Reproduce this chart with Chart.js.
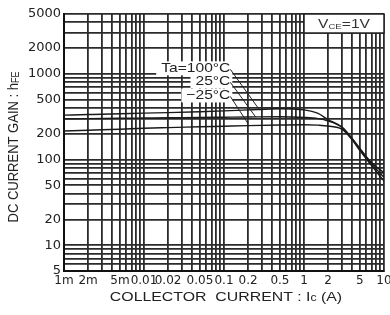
<!DOCTYPE html>
<html>
<head>
<meta charset="utf-8">
<script src="https://cdn.jsdelivr.net/npm/chart.js@4.4.0/dist/chart.umd.min.js"></script>
<style>
  html, body { margin: 0; padding: 0; background: #fff; }
  #wrap { width: 390px; height: 315px; }
</style>
</head>
<body>
<div id="wrap"><canvas id="hfeChart"></canvas></div>
<script>
// collector current Ic (A)
const current = [0.001, 0.002, 0.005, 0.01, 0.02, 0.05, 0.1, 0.2, 0.5, 1, 1.5, 2, 3, 4, 5, 7, 10];
// DC current gain hFE for each ambient temperature
const hfe100 = [330, 335, 342, 348, 353, 362, 370, 380, 392, 380, 345, 292, 238, 176, 135, 92, 70];
const hfe25 = [298, 300, 303, 305, 307, 310, 312, 314, 316, 310, 300, 282, 236, 174, 131, 89, 62];
const hfeMinus25 = [215, 220, 226, 232, 236, 241, 245, 249, 253, 255, 252, 246, 225, 170, 127, 85, 56];
const seriesNames = ['Ta=100°C', '25°C', '−25°C'];

// axis tick labels
const xTickValues = [0.001, 0.002, 0.005, 0.01, 0.02, 0.05, 0.1, 0.2, 0.5, 1, 2, 5, 10];
const xTickLabels = ['1m', '2m', '5m', '0.01', '0.02', '0.05', '0.1', '0.2', '0.5', '1', '2', '5', '10'];
const yTickValues = [5, 10, 20, 50, 100, 200, 500, 1000, 2000, 5000];
const yTickLabels = ['5', '10', '20', '50', '100', '200', '500', '1000', '2000', '5000'];

// annotation anchors in data units (A, hFE)
const labelRightX = 0.12;
const labelY = [1160, 820, 560];
const leaderEnd = [[0.28, 376], [0.25, 312], [0.2, 262]];
const vceBox = [1, 3000, 10, 5000];

const FONT = '"Liberation Sans", Arial, sans-serif';

// every 1..9 multiple inside the range -> full log grid
function logGridTicks(min, max) {
    const out = [];
    for (let e = Math.floor(Math.log10(min)); e <= Math.ceil(Math.log10(max)); e++) {
        for (let m = 1; m < 10; m++) {
            const v = +(m * Math.pow(10, e)).toPrecision(6);
            if (v >= min * 0.999 && v <= max * 1.001) out.push(v);
        }
    }
    return out;
}

function pickLabel(value, values, labels) {
    const i = values.findIndex(v => Math.abs(v - value) <= v * 1e-6);
    return i < 0 ? '' : labels[i];
}

function toPoints(ys) {
    return current.map((c, i) => ({ x: c, y: ys[i] }));
}

// text runs with sub-scripts, stretched horizontally like the scan
function drawRuns(ctx, runs, x, y, align, stretch) {
    let w = 0;
    runs.forEach(r => {
        ctx.font = r.size + 'px ' + FONT;
        r.w = ctx.measureText(r.t).width;
        w += r.w;
    });
    const total = w * stretch;
    const start = align === 'right' ? x - total : align === 'center' ? x - total / 2 : x;
    ctx.save();
    ctx.translate(start, y);
    ctx.scale(stretch, 1);
    let cx = 0;
    runs.forEach(r => {
        ctx.font = r.size + 'px ' + FONT;
        ctx.fillText(r.t, cx, r.dy || 0);
        cx += r.w;
    });
    ctx.restore();
    return total;
}

const annotatePlugin = {
    id: 'annotate',
    afterDatasetsDraw(chart) {
        const { ctx, scales: { x, y } } = chart;
        ctx.save();
        ctx.fillStyle = '#222';
        ctx.textBaseline = 'middle';

        // VCE box
        const bx0 = x.getPixelForValue(vceBox[0]), by0 = y.getPixelForValue(vceBox[1]);
        const bx1 = x.getPixelForValue(vceBox[2]), by1 = y.getPixelForValue(vceBox[3]);
        ctx.fillStyle = '#fff';
        ctx.fillRect(bx0, by1, bx1 - bx0, by0 - by1);
        ctx.strokeStyle = '#222';
        ctx.lineWidth = 1.5;
        ctx.strokeRect(bx0, by1, bx1 - bx0, by0 - by1);
        ctx.fillStyle = '#333';
        drawRuns(ctx, [{ t: 'V', size: 13 }, { t: 'CE', size: 8, dy: 2 }, { t: '=1V', size: 13 }],
            (bx0 + bx1) / 2, (by0 + by1) / 2 + 1, 'center', 1.2);

        // temperature labels + leaders
        const xr = x.getPixelForValue(labelRightX);
        seriesNames.forEach((name, i) => {
            const ly = y.getPixelForValue(labelY[i]);
            ctx.font = '13px ' + FONT;
            const w = ctx.measureText(name).width * 1.2;
            ctx.fillStyle = '#fff';
            ctx.fillRect(xr - w - 5, ly - 7, w + 7, 14);
            ctx.fillStyle = '#222';
            drawRuns(ctx, [{ t: name, size: 13 }], xr, ly, 'right', 1.2);
            ctx.beginPath();
            ctx.moveTo(xr, ly + 1);
            ctx.lineTo(x.getPixelForValue(leaderEnd[i][0]), y.getPixelForValue(leaderEnd[i][1]));
            ctx.strokeStyle = '#222';
            ctx.lineWidth = 1;
            ctx.stroke();
        });

        // axis titles
        ctx.fillStyle = '#222';
        drawRuns(ctx, [{ t: 'COLLECTOR  CURRENT : I', size: 13 }, { t: 'c', size: 10, dy: 1 }, { t: ' (A)', size: 13 }],
            226, 297, 'center', 1.22);
        ctx.save();
        ctx.translate(14, 147);
        ctx.rotate(-Math.PI / 2);
        ctx.scale(1, 1.15);
        drawRuns(ctx, [{ t: 'DC CURRENT GAIN : h', size: 13 }, { t: 'FE', size: 9, dy: 2 }], 0, 0, 'center', 1);
        ctx.restore();
        ctx.restore();
    }
};

const gridStyle = { color: '#2b2b2b', lineWidth: 1.8, drawTicks: false };
const tickFont = { family: '"DejaVu Sans", sans-serif', size: 12 };

const seriesStyle = {
    showLine: true,
    borderColor: '#1a1a1a',
    borderWidth: 1.4,
    pointRadius: 0,
    tension: 0.4,
    cubicInterpolationMode: 'monotone',
    fill: false
};

new Chart(document.getElementById('hfeChart'), {
    type: 'scatter',
    data: {
        datasets: [
            Object.assign({ label: seriesNames[0], data: toPoints(hfe100) }, seriesStyle),
            Object.assign({ label: seriesNames[1], data: toPoints(hfe25) }, seriesStyle),
            Object.assign({ label: seriesNames[2], data: toPoints(hfeMinus25) }, seriesStyle)
        ]
    },
    options: {
        responsive: true,
        maintainAspectRatio: false,
        animation: false,
        devicePixelRatio: 1,
        layout: { padding: { top: 14, right: 6, left: 0, bottom: 0 } },
        plugins: {
            legend: { display: false },
            tooltip: { enabled: false }
        },
        scales: {
            x: {
                type: 'logarithmic',
                min: 0.001,
                max: 10,
                afterBuildTicks: s => { s.ticks = logGridTicks(0.001, 10).map(v => ({ value: v })); },
                afterFit: s => { s.height = 44; s.paddingLeft = 0; s.paddingRight = 0; },
                grid: gridStyle,
                border: { color: '#111', width: 2 },
                ticks: {
                    autoSkip: false,
                    maxRotation: 0,
                    minRotation: 0,
                    padding: 3,
                    color: '#222',
                    font: tickFont,
                    callback: v => pickLabel(v, xTickValues, xTickLabels)
                }
            },
            y: {
                type: 'logarithmic',
                min: 5,
                max: 5000,
                afterBuildTicks: s => { s.ticks = logGridTicks(5, 5000).map(v => ({ value: v })); },
                afterFit: s => { s.width = 64; s.paddingTop = 0; s.paddingBottom = 0; },
                grid: gridStyle,
                border: { color: '#111', width: 2 },
                ticks: {
                    autoSkip: false,
                    padding: 3,
                    color: '#222',
                    font: { family: '"DejaVu Sans", sans-serif', size: 13 },
                    callback: v => pickLabel(v, yTickValues, yTickLabels)
                }
            }
        }
    },
    plugins: [annotatePlugin]
});
</script>
</body>
</html>
